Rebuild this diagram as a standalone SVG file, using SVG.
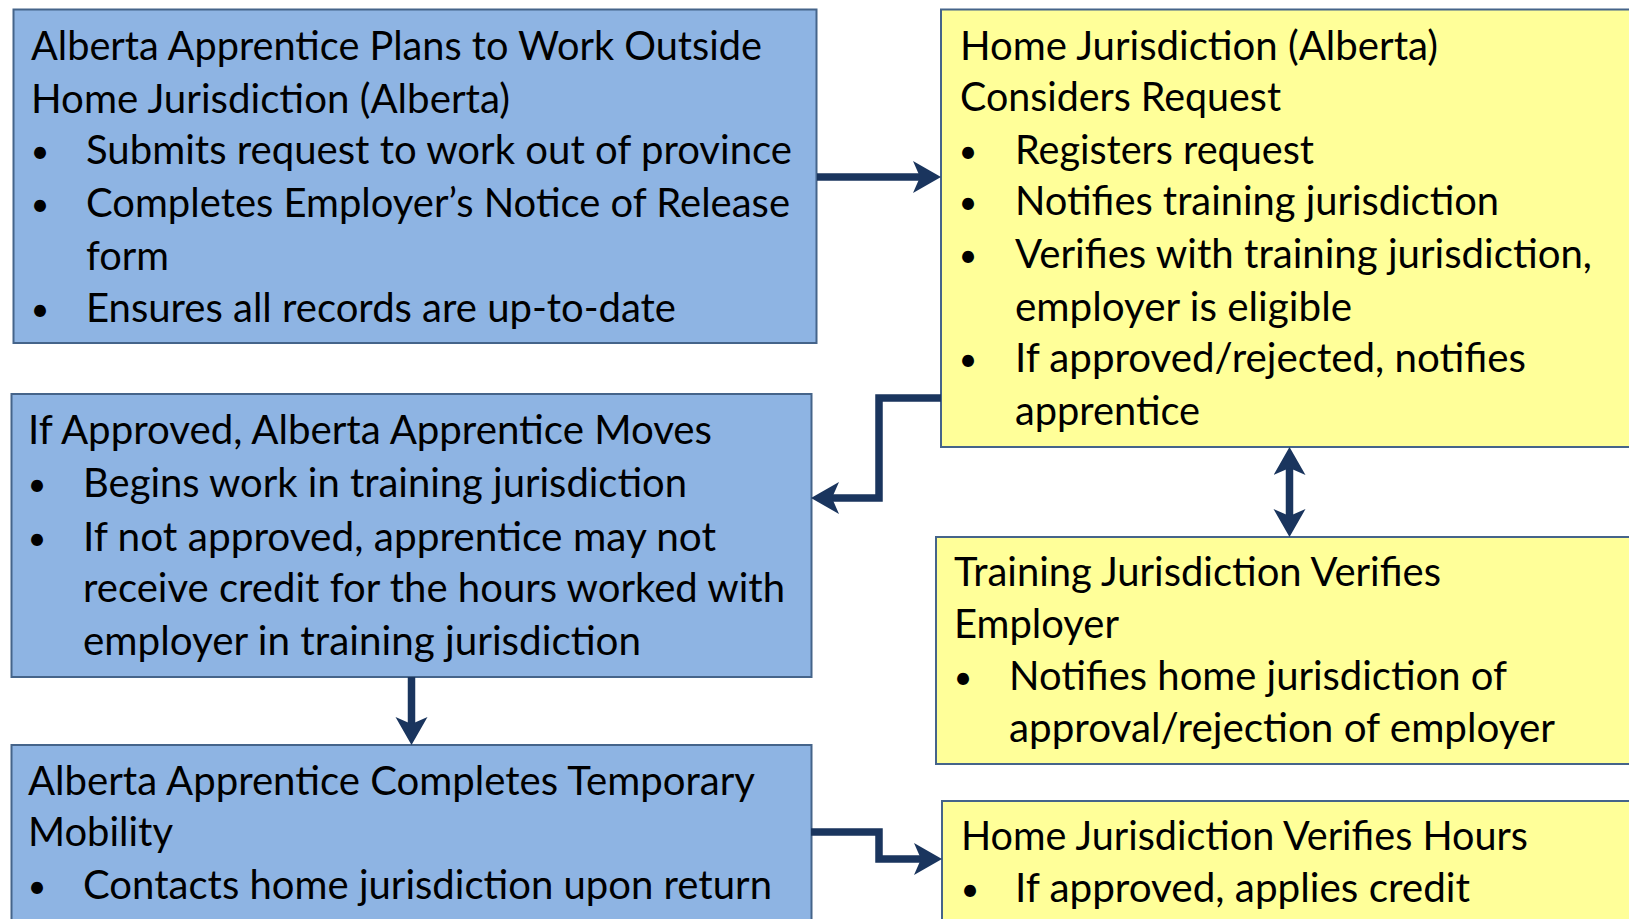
<svg xmlns="http://www.w3.org/2000/svg" width="1629" height="919" viewBox="0 0 1629 919">
<style>
.blue{fill:#8EB4E3;stroke:#45648A;stroke-width:2}
.yel{fill:#FFFF99;stroke:#45648A;stroke-width:2}
text{font-family:Lato,"Open Sans","Liberation Sans",sans-serif;font-size:40px;fill:#000}
.b{text-anchor:middle;font-size:32px}
.conn{fill:none;stroke:#1A355E;stroke-width:7.5;stroke-linejoin:miter}
</style>
<defs>
<marker id="ah" markerUnits="userSpaceOnUse" markerWidth="34" markerHeight="34" refX="14" refY="16" orient="auto-start-reverse">
<path d="M0,0 L28,16 L0,32 L7,16 z" fill="#1A355E"/>
</marker>
</defs>
<rect width="1629" height="919" fill="#fff"/>
<g id="node-plans">
<rect class="blue" x="13.5" y="9.5" width="803" height="333.5"/>
<text x="31" y="60" textLength="731" lengthAdjust="spacingAndGlyphs">Alberta Apprentice Plans to Work Outside</text>
<text x="31" y="113" textLength="479" lengthAdjust="spacingAndGlyphs">Home Jurisdiction (Alberta)</text>
<text class="b" x="40" y="163">•</text>
<text x="86" y="164" textLength="706" lengthAdjust="spacingAndGlyphs">Submits request to work out of province</text>
<text class="b" x="40" y="216">•</text>
<text x="86" y="217" textLength="704" lengthAdjust="spacingAndGlyphs">Completes Employer’s Notice of Release</text>
<text x="86" y="270" textLength="83" lengthAdjust="spacingAndGlyphs">form</text>
<text class="b" x="40" y="321">•</text>
<text x="86" y="322" textLength="590" lengthAdjust="spacingAndGlyphs">Ensures all records are up-to-date</text>
</g>
<g id="node-considers">
<rect class="yel" x="941" y="9.5" width="700" height="437.5"/>
<text x="960" y="60" textLength="478" lengthAdjust="spacingAndGlyphs">Home Jurisdiction (Alberta)</text>
<text x="960" y="111" textLength="321" lengthAdjust="spacingAndGlyphs">Considers Request</text>
<text class="b" x="968" y="163">•</text>
<text x="1015" y="164" textLength="299" lengthAdjust="spacingAndGlyphs">Registers request</text>
<text class="b" x="968" y="214">•</text>
<text x="1015" y="215" textLength="484" lengthAdjust="spacingAndGlyphs">Notifies training jurisdiction</text>
<text class="b" x="968" y="267">•</text>
<text x="1015" y="268" textLength="577" lengthAdjust="spacingAndGlyphs">Verifies with training jurisdiction,</text>
<text x="1015" y="321" textLength="337" lengthAdjust="spacingAndGlyphs">employer is eligible</text>
<text class="b" x="968" y="371">•</text>
<text x="1015" y="372" textLength="511" lengthAdjust="spacingAndGlyphs">If approved/rejected, notifies</text>
<text x="1015" y="425" textLength="185" lengthAdjust="spacingAndGlyphs">apprentice</text>
</g>
<g id="node-moves">
<rect class="blue" x="11.5" y="394" width="800" height="283"/>
<text x="28" y="444" textLength="684" lengthAdjust="spacingAndGlyphs">If Approved, Alberta Apprentice Moves</text>
<text class="b" x="37" y="496">•</text>
<text x="83" y="497" textLength="604" lengthAdjust="spacingAndGlyphs">Begins work in training jurisdiction</text>
<text class="b" x="37" y="550">•</text>
<text x="83" y="551" textLength="633" lengthAdjust="spacingAndGlyphs">If not approved, apprentice may not</text>
<text x="83" y="602" textLength="702" lengthAdjust="spacingAndGlyphs">receive credit for the hours worked with</text>
<text x="83" y="655" textLength="558" lengthAdjust="spacingAndGlyphs">employer in training jurisdiction</text>
</g>
<g id="node-training">
<rect class="yel" x="936" y="537" width="700" height="227"/>
<text x="954" y="586" textLength="487" lengthAdjust="spacingAndGlyphs">Training Jurisdiction Verifies</text>
<text x="954" y="638" textLength="165" lengthAdjust="spacingAndGlyphs">Employer</text>
<text class="b" x="963" y="689">•</text>
<text x="1009" y="690" textLength="498" lengthAdjust="spacingAndGlyphs">Notifies home jurisdiction of</text>
<text x="1009" y="742" textLength="546" lengthAdjust="spacingAndGlyphs">approval/rejection of employer</text>
</g>
<g id="node-completes">
<rect class="blue" x="11.5" y="745" width="800" height="200"/>
<text x="28" y="795" textLength="727" lengthAdjust="spacingAndGlyphs">Alberta Apprentice Completes Temporary</text>
<text x="28" y="846" textLength="145" lengthAdjust="spacingAndGlyphs">Mobility</text>
<text class="b" x="37" y="898">•</text>
<text x="83" y="899" textLength="689" lengthAdjust="spacingAndGlyphs">Contacts home jurisdiction upon return</text>
</g>
<g id="node-hours">
<rect class="yel" x="942" y="801" width="700" height="150"/>
<text x="961" y="850" textLength="567" lengthAdjust="spacingAndGlyphs">Home Jurisdiction Verifies Hours</text>
<text class="b" x="970" y="901">•</text>
<text x="1015" y="902" textLength="455" lengthAdjust="spacingAndGlyphs">If approved, applies credit</text>
</g>
<g id="connectors">
<path class="conn" d="M817,177 H927" marker-end="url(#ah)"/>
<path class="conn" d="M941,398 H879 V498 H825" marker-end="url(#ah)"/>
<path class="conn" d="M1289.5,461 V523" marker-start="url(#ah)" marker-end="url(#ah)"/>
<path class="conn" d="M411.5,677 V731" marker-end="url(#ah)"/>
<path class="conn" d="M811,832 H879 V859 H928" marker-end="url(#ah)"/>
</g>
</svg>
